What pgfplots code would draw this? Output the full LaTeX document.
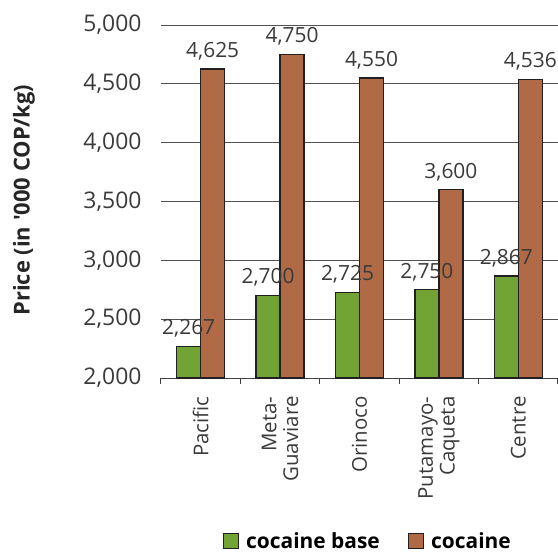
\documentclass[border=0pt]{standalone}
\usepackage{fontspec}
\setmainfont{Open Sans}
\usepackage{pgfplots}
\pgfplotsset{compat=1.18}

\definecolor{basegreen}{HTML}{72A335}
\definecolor{cocbrown}{HTML}{B06A46}
\definecolor{edgedark}{HTML}{231F20}
\definecolor{txtgray}{HTML}{3A3A3A}

\begin{document}
\begin{tikzpicture}
\begin{axis}[
  at={(0,0)}, anchor=south west,
  scale only axis,
  width=397bp, height=353bp,
  ybar=0pt, bar width=24bp,
  xmin=-0.5, xmax=4.5,
  ymin=2000, ymax=5000,
  enlargelimits=false,
  clip mode=individual,
  axis x line*=bottom, axis y line*=left,
  y axis line style={draw=none},
  x axis line style={-, draw=black!75, line width=1bp},
  ytick={2000,2500,...,5000},
  ytick style={draw=none},
  ymajorgrids,
  grid style={draw=black!68, line width=0.75bp},
  /pgf/number format/.cd, 1000 sep={,}, assume math mode=true,
  /pgfplots/.cd,
  yticklabel style={font=\fontsize{23}{25}\selectfont, text=txtgray, xshift=-16bp},
  % ticks at category boundaries, names centred between them
  xtick={-0.5,0.5,...,4.5},
  x tick label as interval,
  xticklabels={Pacific, Meta-\\Guaviare, Orinoco, Putamayo-\\Caqueta, Centre},
  xtick align=outside,
  major tick length=6bp,
  xtick style={draw=black!75, line width=1bp},
  xticklabel style={rotate=90, anchor=east, align=right,
    font=\fontsize{20.5}{22}\selectfont, text=txtgray, xshift=-9bp},
  ylabel={\bfseries Price (in \textquotesingle 000 COP/kg)},
  ylabel style={at={(axis description cs:-0.345,0.504)}, anchor=center,
    font=\fontsize{22}{24}\selectfont, text=black!85},
  every node near coord/.append style={font=\fontsize{21}{22}\selectfont,
    text=txtgray, yshift=5bp},
  legend style={at={(axis description cs:0.521,-0.462)}, anchor=center,
    draw=none, fill=none, legend columns=2,
    font=\fontsize{21}{23}\selectfont\bfseries,
    /tikz/every odd column/.append style={column sep=5bp},
    /tikz/every even column/.append style={column sep=26bp}},
  legend image code/.code={\draw[#1, line width=1.3bp] (0bp,-7.5bp) rectangle (15bp,7.5bp);},
]
% legend entries first, in reading order
\addlegendimage{fill=basegreen, draw=edgedark}
\addlegendentry{cocaine base}
\addlegendimage{fill=cocbrown, draw=edgedark}
\addlegendentry{cocaine}
% cocaine drawn first so that the base labels sit on top of the brown bars
\addplot[fill=cocbrown, draw=edgedark, line width=1.4bp, bar shift=12bp,
  nodes near coords, forget plot]
  coordinates {(0,4625) (1,4750) (2,4550) (3,3600) (4,4536)};
\addplot[fill=basegreen, draw=edgedark, line width=1.4bp, bar shift=-12bp,
  nodes near coords, forget plot]
  coordinates {(0,2267) (1,2700) (2,2725) (3,2750) (4,2867)};
\end{axis}
\pgfresetboundingbox
\path[use as bounding box] (-161bp,-174bp) rectangle (397bp,378bp);
\end{tikzpicture}
\end{document}
